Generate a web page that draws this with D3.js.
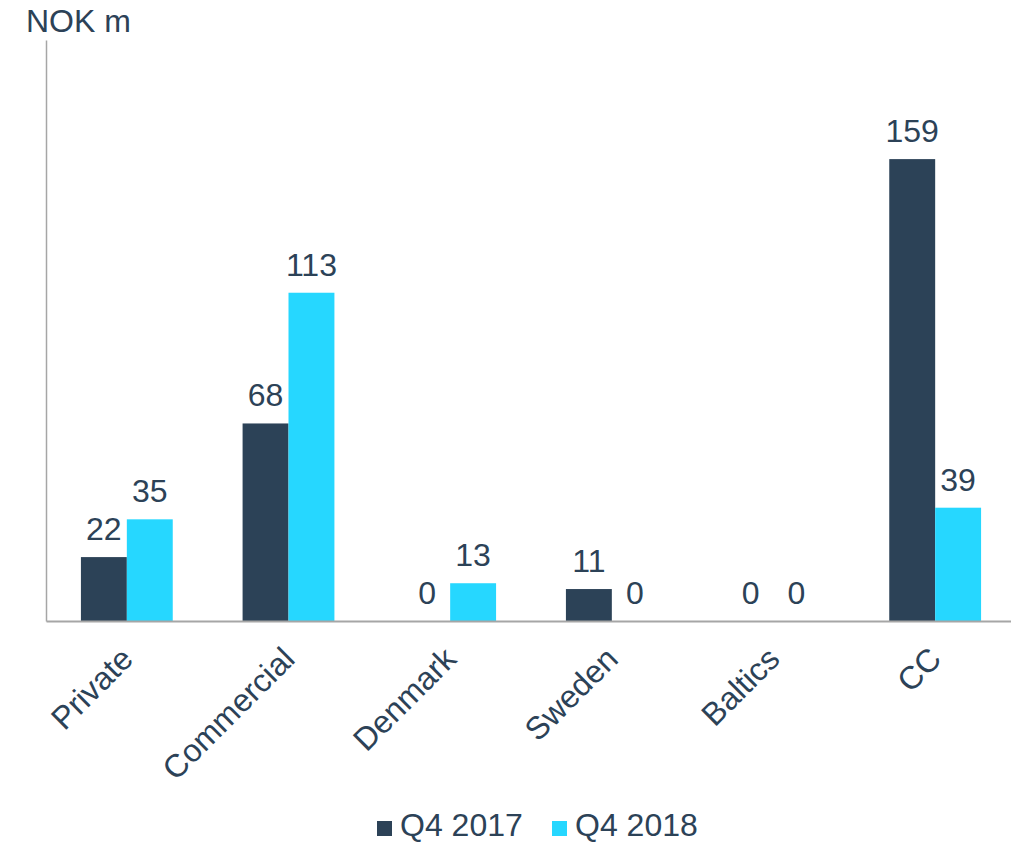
<!DOCTYPE html>
<html>
<head>
<meta charset="utf-8">
<script src="https://cdn.jsdelivr.net/npm/d3@7"></script>
<style>
  body { margin: 0; background: #fff; }
  text { font-family: "Liberation Sans", Arial, sans-serif; fill: #2c4257; }
</style>
</head>
<body>
<div id="chart"></div>
<script>
// Chart values
const categories = ["Private", "Commercial", "Denmark", "Sweden", "Baltics", "CC"];
const seriesNames = ["Q4 2017", "Q4 2018"];
const q42017 = [22, 68, 0, 11, 0, 159];
const q42018 = [35, 113, 13, 0, 0, 39];
const unitLabel = "NOK m";

const W = 1011, H = 843;
const colors = ["#2c4257", "#26d7ff"];
const fontSize = 32;

const svg = d3.select("#chart").append("svg")
  .attr("width", W)
  .attr("height", H);

const x = d3.scaleBand()
  .domain(categories)
  .range([46, 1016])
  .paddingInner(0.432)
  .paddingOuter(0.216);

const xSub = d3.scaleBand()
  .domain(seriesNames)
  .range([0, x.bandwidth()]);

const y = d3.scaleLinear()
  .domain([0, 200])
  .range([621, 40]);

// Y axis line only
svg.append("g")
  .attr("transform", "translate(46,0)")
  .call(d3.axisLeft(y).tickValues([]).tickSizeOuter(0))
  .select(".domain")
  .attr("stroke", "#a6a6a6")
  .attr("stroke-width", 1.5);

svg.append("text")
  .attr("x", 26)
  .attr("y", 32)
  .style("font-size", "32px")
  .text(unitLabel);

// Bars
const rows = categories.map((c, i) => ({
  cat: c,
  vals: [q42017[i], q42018[i]]
}));

const groups = svg.selectAll(".grp")
  .data(rows)
  .enter().append("g")
  .attr("class", "grp")
  .attr("transform", d => `translate(${x(d.cat)},0)`);

groups.selectAll("rect")
  .data(d => d.vals.map((v, k) => ({ v, k })))
  .enter().append("rect")
  .attr("x", d => xSub(seriesNames[d.k]))
  .attr("y", d => y(d.v))
  .attr("width", xSub.bandwidth())
  .attr("height", d => y(0) - y(d.v))
  .attr("fill", d => colors[d.k]);

groups.selectAll(".val")
  .data(d => d.vals.map((v, k) => ({ v, k })))
  .enter().append("text")
  .attr("class", "val")
  .attr("x", d => xSub(seriesNames[d.k]) + xSub.bandwidth() / 2)
  .attr("y", d => y(d.v) - 17)
  .attr("text-anchor", "middle")
  .style("font-size", fontSize + "px")
  .text(d => d.v);

// X axis
const xAxis = svg.append("g")
  .attr("transform", "translate(0,621)")
  .call(d3.axisBottom(x).tickSize(0).tickSizeOuter(0));

xAxis.select(".domain")
  .attr("stroke", "#a6a6a6")
  .attr("stroke-width", 2);

xAxis.selectAll(".tick text")
  .attr("text-anchor", "end")
  .attr("dy", null)
  .attr("y", 0)
  .attr("x", 0)
  .attr("transform", "translate(8,40) rotate(-45)")
  .style("font-size", fontSize + "px")
  .style("font-family", "'Liberation Sans', Arial, sans-serif")
  .attr("fill", "#2c4257");

// Legend
const legend = svg.append("g")
  .attr("transform", "translate(377,836)");

const legX = [0, 175];
seriesNames.forEach((s, k) => {
  const g = legend.append("g").attr("transform", `translate(${legX[k]},0)`);
  g.append("rect")
    .attr("x", 0)
    .attr("y", -15)
    .attr("width", 15)
    .attr("height", 15)
    .attr("fill", colors[k]);
  g.append("text")
    .attr("x", 23)
    .attr("y", 0)
    .style("font-size", "32px")
    .text(s);
});
</script>
</body>
</html>
